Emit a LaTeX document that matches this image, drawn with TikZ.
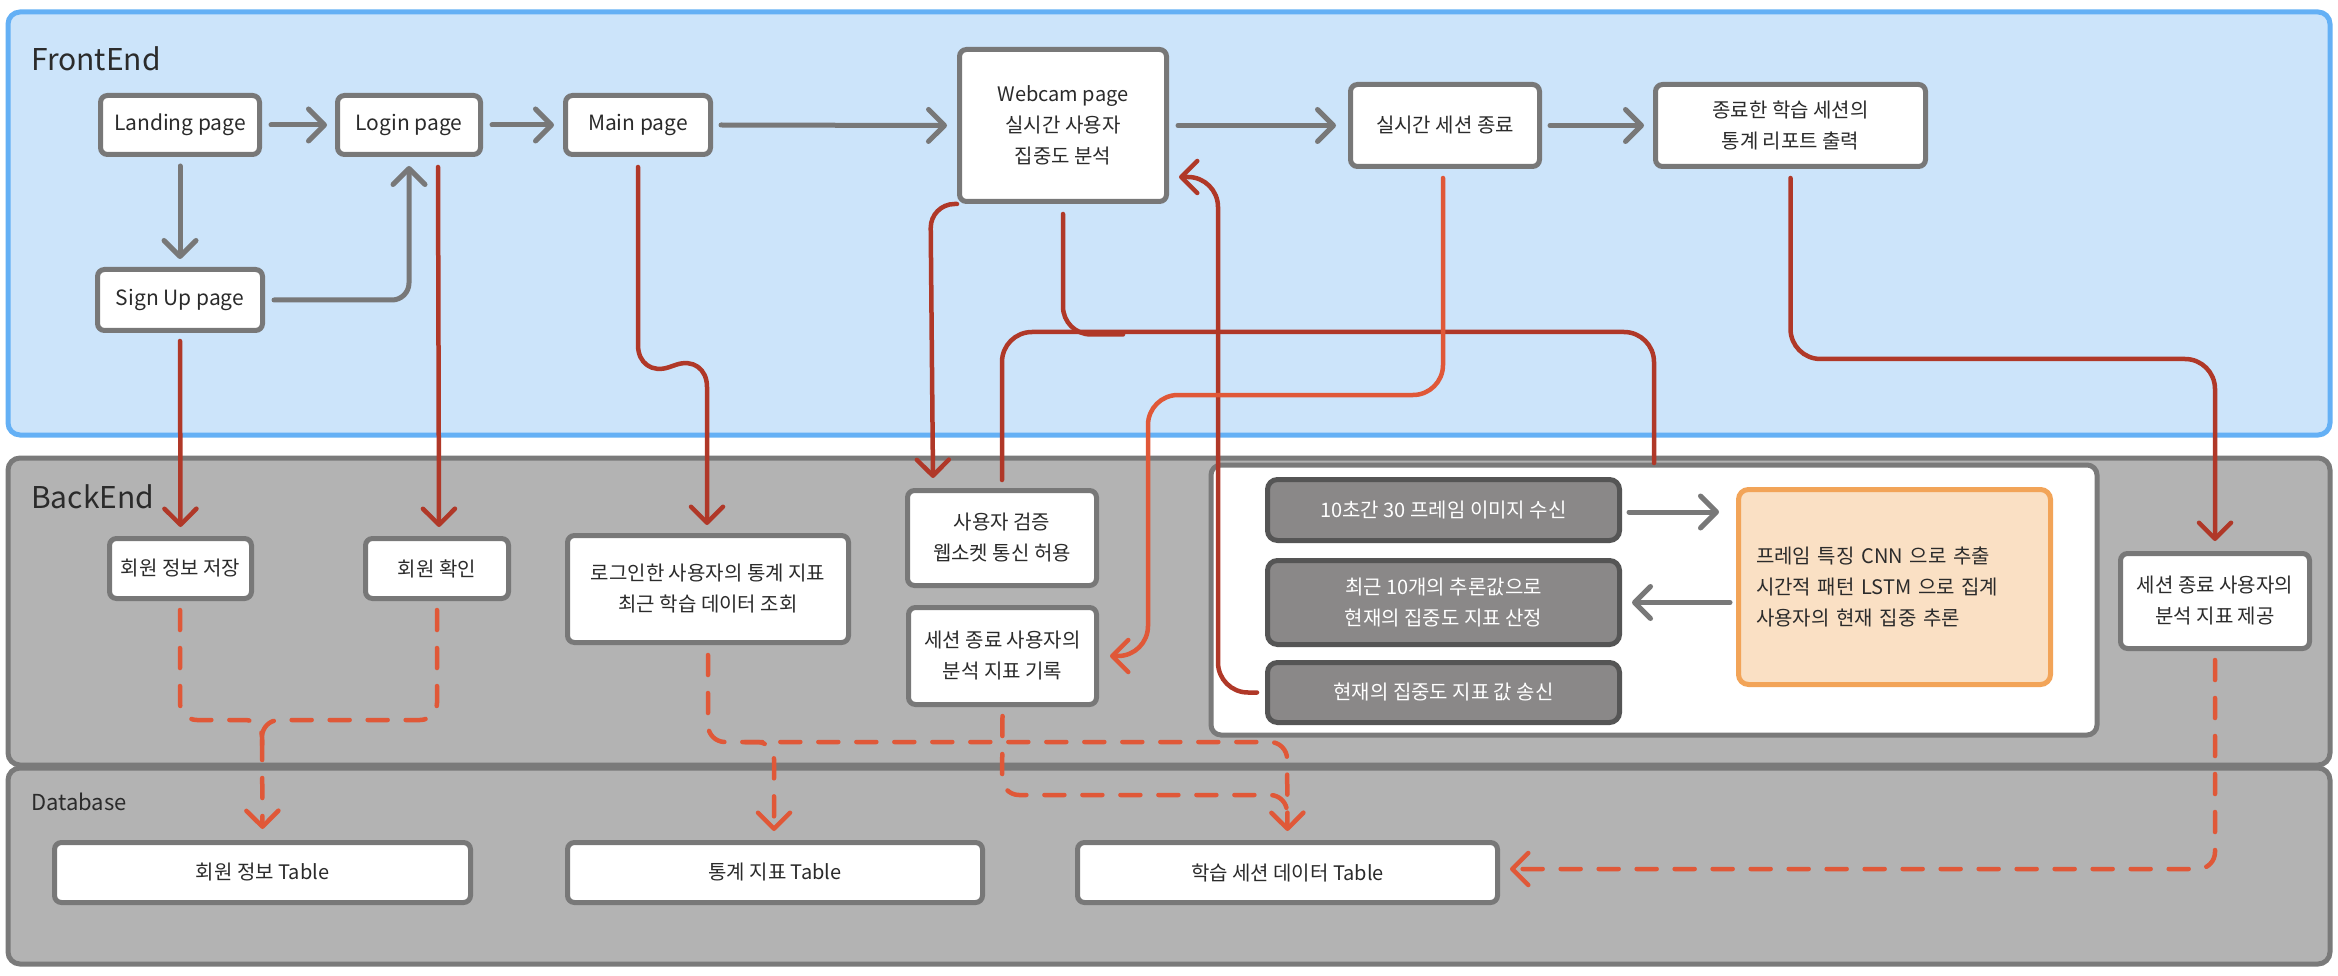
\documentclass[tikz,border=0pt]{standalone}
\usepackage{fontspec}
\setmainfont{Noto Sans CJK KR}
\usetikzlibrary{arrows.meta,calc}
\definecolor{feFill}{HTML}{CCE4FA}
\definecolor{feLine}{HTML}{64B0F5}
\definecolor{beFill}{HTML}{B3B3B3}
\definecolor{beLine}{HTML}{7A7A7A}
\definecolor{boxLine}{HTML}{787878}
\definecolor{txtCol}{HTML}{2B2B2B}
\definecolor{darkRed}{HTML}{B03828}
\definecolor{orangeRed}{HTML}{E05838}
\definecolor{dboxFill}{HTML}{8A8888}
\definecolor{dboxLine}{HTML}{555555}
\definecolor{peachFill}{HTML}{FAE0C4}
\definecolor{peachLine}{HTML}{F2A458}
\begin{document}
\begin{tikzpicture}[x=1pt,y=-1pt,
  panelfe/.style={draw=feLine,fill=feFill,line width=5pt,rounded corners=12pt},
  panelbe/.style={draw=beLine,fill=beFill,line width=5pt,rounded corners=12pt},
  title/.style={anchor=west,inner sep=0pt,text=txtCol,font=\fontsize{30}{36}\selectfont},
  wbox/.style={draw=boxLine,fill=white,line width=5pt,rounded corners=7pt,inner sep=0pt,align=center,text=txtCol,font=\fontsize{20}{31}\selectfont},
  lbox/.style={wbox,font=\fontsize{21}{31}\selectfont},
  dbox/.style={wbox,draw=dboxLine,fill=dboxFill,text=white,rounded corners=10pt},
  pbox/.style={wbox,draw=peachLine,fill=peachFill,rounded corners=10pt,align=left},
  tip/.style={-{Straight Barb[length=16pt,width=32pt,round]}},
  garrow/.style={draw=boxLine,line width=5pt,line cap=round,tip},
  rline/.style={draw=darkRed,line width=4.5pt,line cap=round},
  rarrow/.style={rline,tip},
  oarrow/.style={draw=orangeRed,line width=4.5pt,line cap=round,tip},
  dline/.style={draw=orangeRed,line width=4.5pt,line cap=round,dash pattern=on 20pt off 18pt},
  darrow/.style={dline,tip}]
\useasboundingbox (0,0) rectangle (2338,976);
% panels
\draw[panelfe] (8,12) rectangle (2330,435);
\draw[panelbe] (8,458) rectangle (2330,765);
\draw[panelbe] (8,768) rectangle (2330,964);
\draw[draw=beLine,fill=white,line width=5pt,rounded corners=10pt] (1211,465) rectangle (2097,735);
\node[title] (feTitle) at (31,59) {FrontEnd};
\node[title] (beTitle) at (31,497) {BackEnd};
\node[title,font=\fontsize{22}{26}\selectfont] (dbTitle) at (31,802) {Database};
% frontend nodes
\node[lbox,minimum width=159pt,minimum height=59pt] (landing) at (180,125) {Landing page};
\node[lbox,minimum width=143pt,minimum height=59pt] (login) at (409,125) {Login page};
\node[lbox,minimum width=145pt,minimum height=59pt] (main) at (638,125) {Main page};
\node[wbox,minimum width=207pt,minimum height=152pt] (webcam) at (1063,125.5) {Webcam page\\실시간 사용자\\집중도 분석};
\node[wbox,minimum width=189pt,minimum height=82pt] (sessend) at (1445,125.5) {실시간 세션 종료};
\node[wbox,minimum width=270pt,minimum height=82pt] (report) at (1790.5,125.5) {종료한 학습 세션의\\통계 리포트 출력};
\node[lbox,minimum width=165pt,minimum height=61pt] (signup) at (180,300) {Sign Up page};
% backend nodes
\node[wbox,minimum width=142pt,minimum height=60pt] (msave) at (180.5,568.5) {회원 정보 저장};
\node[wbox,minimum width=143pt,minimum height=60pt] (mcheck) at (437,568.5) {회원 확인};
\node[wbox,minimum width=281pt,minimum height=107pt] (query) at (708,589) {로그인한 사용자의 통계 지표\\최근 학습 데이터 조회};
\node[wbox,minimum width=189pt,minimum height=95pt] (verify) at (1002,538) {사용자 검증\\웹소켓 통신 허용};
\node[wbox,minimum width=188pt,minimum height=97pt] (record) at (1002.5,656) {세션 종료 사용자의\\분석 지표 기록};
\node[dbox,minimum width=352pt,minimum height=61pt] (recv) at (1443.5,510) {10초간 30 프레임 이미지 수신};
\node[dbox,minimum width=352pt,minimum height=84pt] (infer) at (1443.5,602.5) {최근 10개의 추론값으로\\현재의 집중도 지표 산정};
\node[dbox,minimum width=352pt,minimum height=60pt] (send) at (1443.5,692.5) {현재의 집중도 지표 값 송신};
\node[pbox,minimum width=312pt,minimum height=195pt,text width=277pt] (model) at (1894.5,587) {프레임 특징 CNN 으로 추출\\시간적 패턴 LSTM 으로 집계\\사용자의 현재 집중 추론};
\node[wbox,minimum width=189pt,minimum height=95pt] (provide) at (2215,601) {세션 종료 사용자의\\분석 지표 제공};
% database nodes
\node[wbox,minimum width=416pt,minimum height=60pt] (t1) at (262.5,872.5) {회원 정보 Table};
\node[wbox,minimum width=415pt,minimum height=60pt] (t2) at (775,872.5) {통계 지표 Table};
\node[wbox,minimum width=420pt,minimum height=60pt] (t3) at (1287.5,872.5) {학습 세션 데이터 Table};
% gray flow arrows
\draw[garrow] ($(landing.east)+(9,0)$) -- ($(login.west)+(-8,0)$);
\draw[garrow] ($(login.east)+(9,0)$) -- ($(main.west)+(-9,0)$);
\draw[garrow] ($(main.east)+(8,0)$) -- ($(webcam.west)+(-10,0)$);
\draw[garrow] ($(webcam.east)+(9,0)$) -- ($(sessend.west)+(-12,0)$);
\draw[garrow] ($(sessend.east)+(8,0)$) -- ($(report.west)+(-9,0)$);
\draw[garrow] ($(landing.south)+(0,9)$) -- ($(signup.north)+(0,-8)$);
\draw[garrow,rounded corners=17pt] ($(signup.east)+(9,0)$) -- (signup.east -| login.south) -- ($(login.south)+(0,9)$);
\draw[garrow] ($(recv.east)+(7,2)$) -- ($(model.west |- recv.east)+(-17,2)$);
\draw[garrow] ($(model.west |- infer.east)+(-6,0)$) -- ($(infer.east)+(10,0)$);
% red connectors
\draw[rarrow] ($(signup.south)+(0,8)$) -- ($(msave.north)+(0,-9)$);
\draw[rarrow] ($(login.south)+(29,10)$) -- ($(mcheck.north)+(2,-9)$);
\draw[rarrow,rounded corners=33pt] ($(main.south)+(0,10)$) -- ($(main.south)+(0,221)$) -- ($(query.north)+(-1,-179)$) -- ($(query.north)+(-1,-8)$);
\draw[rarrow,rounded corners=24pt] (webcam.south west) -- ($(webcam.south west)+(-26.5,0)$) -- ($(verify.north)+(-69,-10)$);
\draw[rline,rounded corners=30pt] ($(verify.north)+(0,-8)$) -- ($(verify.north)+(0,-156)$) -- ($(verify.north)+(652,-156)$) -- ($(verify.north)+(652,-25)$);
\draw[rline,rounded corners=28pt] ($(webcam.south)+(0,10)$) -- ($(webcam.south)+(0,130.5)$) -- ($(webcam.south)+(60,130.5)$);
\draw[rarrow,rounded corners=30pt] ($(send.west)+(-8,0)$) -- ($(send.west)+(-47,0)$) -- (1218,177) -- ($(webcam.east)+(10,51.5)$);
\draw[oarrow,rounded corners=30pt] ($(sessend.south)+(-2,9)$) -- ($(sessend.south)+(-2,226)$) -- (1148,395) -- (1148,656) -- ($(record.east)+(11,0)$);
\draw[rarrow,rounded corners=30pt] ($(report.south)+(0,9)$) -- ($(report.south)+(0,190)$) -- (2215,359) -- ($(provide.north)+(0,-10)$);
% dashed data connectors
\draw[dline,rounded corners=17pt] ($(msave.south)+(-0.5,9)$) -- (180,720) -- (262,720) -- (262,745);
\draw[dline,rounded corners=17pt] ($(mcheck.south)+(0,9)$) -- (437,720) -- (262,720) -- (262,745);
\draw[darrow] (262,740) -- ($(t1.north)+(0,-11)$);
\draw[darrow,rounded corners=17pt] ($(query.south)+(0,10)$) -- (708,742) -- (1287,742) -- ($(t3.north)+(0,-9)$);
\draw[darrow,rounded corners=17pt] (745,742) -- (774,742) -- ($(t2.north)+(-1,-9)$);
\draw[dline,rounded corners=17pt] ($(record.south)+(0,9)$) -- (1002,795) -- (1287,795) -- (1287,812);
\draw[darrow,rounded corners=17pt] ($(provide.south)+(0,9)$) -- (2215,869) -- ($(t3.east)+(10,-3.5)$);
\end{tikzpicture}
\end{document}
